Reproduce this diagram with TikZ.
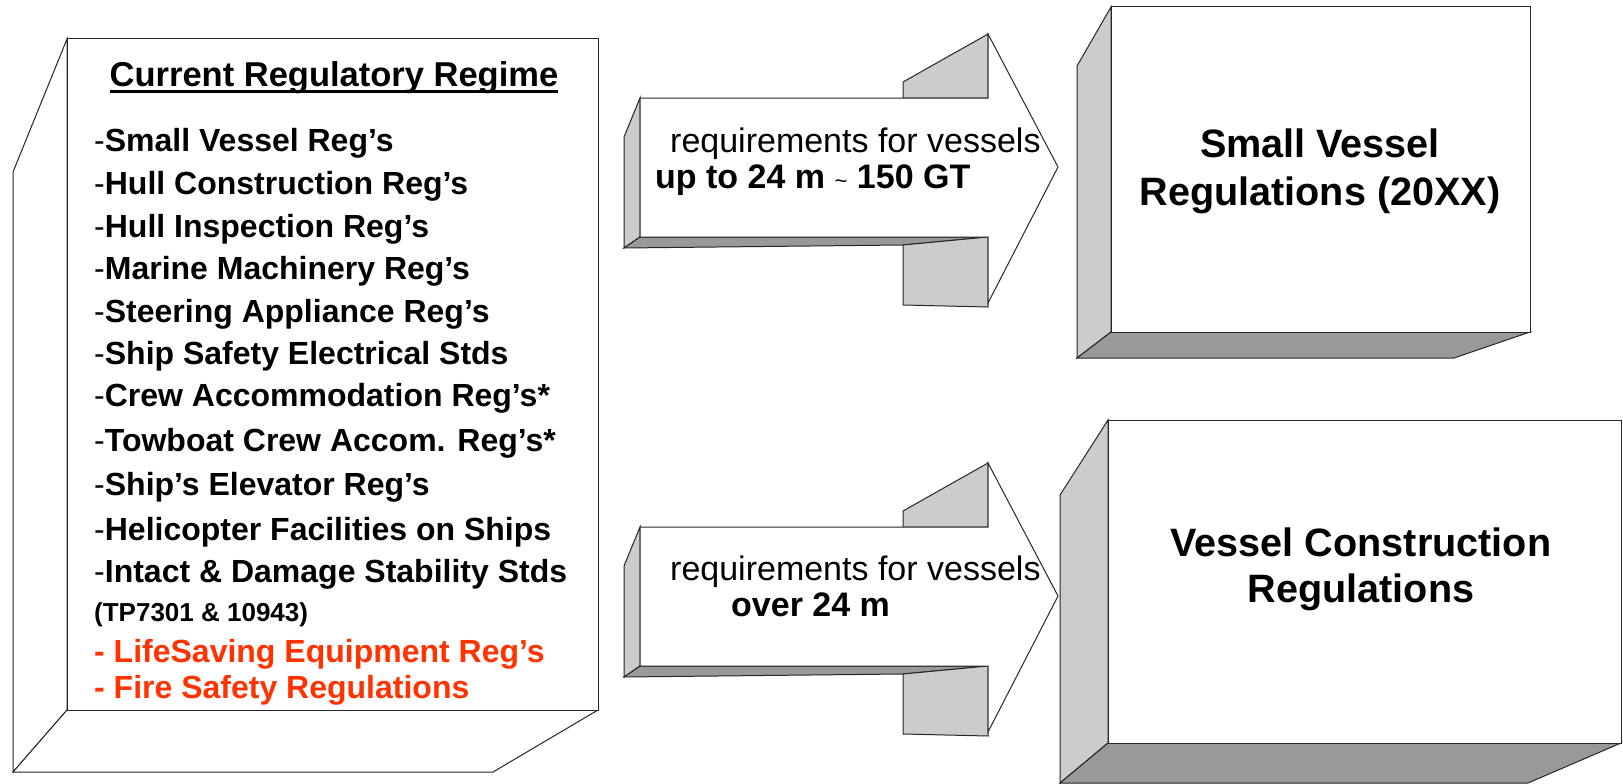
\documentclass[tikz,border=0pt]{standalone}
\usepackage{fontspec}
\setmainfont{Liberation Sans}
\definecolor{lgray}{HTML}{CCCCCC}
\definecolor{dgray}{HTML}{999999}
\definecolor{redtxt}{HTML}{FF3300}
\tikzset{
  edge/.style={draw=black!85, line width=1pt, line join=miter},
  lside/.style={edge, fill=lgray},
  dside/.style={edge, fill=dgray},
  wside/.style={edge, fill=white},
  listtxt/.style={anchor=base west, inner sep=0pt, font=\fontsize{32}{36}\selectfont\bfseries},
  redtxtst/.style={listtxt, text=redtxt},
  arrtxt/.style={anchor=base west, inner sep=0pt, font=\fontsize{34}{40}\selectfont},
  boxtxt/.style={anchor=base, inner sep=0pt, font=\fontsize{39.6}{46}\selectfont\bfseries},
  blockarrow/.pic={
    \draw[lside] (640,98) -- (624,137) -- (624,248) -- (640,237) -- cycle;
    \draw[dside] (640,237) -- (988,237) -- (903,245) -- (624,248) -- cycle;
    \draw[lside] (903,245) -- (988,237) -- (988,307) -- (903,305) -- cycle;
    \draw[lside] (903,82) -- (988,34) -- (988,98) -- (903,98) -- cycle;
    \draw[wside] (640,98) -- (988,98) -- (988,34) -- (1058,167) -- (988,303) -- (988,237) -- (640,237) -- cycle;
  }
}
\begin{document}
\begin{tikzpicture}[x=1pt,y=-1pt]
\useasboundingbox (0,0) rectangle (1623,784);
% left box
\draw[wside] (67,39) -- (13,172) -- (13,772) -- (67,710) -- cycle;
\draw[wside] (13,772) -- (67,710) -- (598,710) -- (493,772) -- cycle;
\draw[wside] (67,39) rectangle (598,710);
% top right box
\draw[lside] (1111,7) -- (1077,66) -- (1077,358) -- (1111,332) -- cycle;
\draw[dside] (1077,358) -- (1111,332) -- (1530,332) -- (1454,358) -- cycle;
\draw[wside] (1111,7) rectangle (1530,332);
% bottom right box
\draw[lside] (1108,420) -- (1060,495) -- (1060,783) -- (1108,743) -- cycle;
\draw[dside] (1060,783) -- (1108,743) -- (1621,743) -- (1528,783) -- cycle;
\draw[wside] (1108,420) rectangle (1621,743);
% arrows
\pic at (0,0) {blockarrow};
\pic at (0,429) {blockarrow};
% title
\node[anchor=base, inner sep=0pt, font=\fontsize{34.5}{40}\selectfont\bfseries] (title) at (334,86) {Current Regulatory Regime};
\draw[line width=3.5pt] ([yshift=-5.5pt]title.base west) -- ([yshift=-5.5pt]title.base east);
% list
\node[listtxt] (l1) at (94,151) {{\mdseries -}Small Vessel Reg’s};
\node[listtxt] (l2) at (94,194) {{\mdseries -}Hull Construction Reg’s};
\node[listtxt] (l3) at (94,237) {{\mdseries -}Hull Inspection Reg’s};
\node[listtxt] (l4) at (94,279) {{\mdseries -}Marine Machinery Reg’s};
\node[listtxt] (l5) at (94,322) {{\mdseries -}Steering Appliance Reg’s};
\node[listtxt] (l6) at (94,364) {{\mdseries -}Ship Safety Electrical Stds};
\node[listtxt] (l7) at (94,406) {{\mdseries -}Crew Accommodation Reg’s*};
\node[listtxt] (l8) at (94,451) {{\mdseries -}Towboat Crew Accom. Reg’s*};
\node[listtxt] (l9) at (94,495) {{\mdseries -}Ship’s Elevator Reg’s};
\node[listtxt] (l10) at (94,540) {{\mdseries -}Helicopter Facilities on Ships};
\node[listtxt] (l11) at (94,582) {{\mdseries -}Intact \& Damage Stability Stds};
\node[listtxt, font=\fontsize{26}{30}\selectfont\bfseries] (l12) at (94,621) {(TP7301 \& 10943)};
\node[redtxtst] (l13) at (94,662) {- LifeSaving Equipment Reg’s};
\node[redtxtst] (l14) at (94,698) {- Fire Safety Regulations};
% arrow texts
\node[arrtxt] (a1) at (670,152) {requirements for vessels};
\node[arrtxt, font=\fontsize{34}{40}\selectfont\bfseries] (a2) at (655,188) {up to 24 m {\mdseries\fontsize{22}{22}\selectfont\textasciitilde} 150 GT};
\node[arrtxt] (b1) at (670,580) {requirements for vessels};
\node[arrtxt, font=\fontsize{34}{40}\selectfont\bfseries] (b2) at (731,616) {over 24 m};
% box texts
\node[boxtxt] (s1) at (1320,157) {Small Vessel};
\node[boxtxt] (s2) at (1320,205) {Regulations (20XX)};
\node[boxtxt] (v1) at (1361,556) {Vessel Construction};
\node[boxtxt] (v2) at (1361,602) {Regulations};
\end{tikzpicture}
\end{document}
